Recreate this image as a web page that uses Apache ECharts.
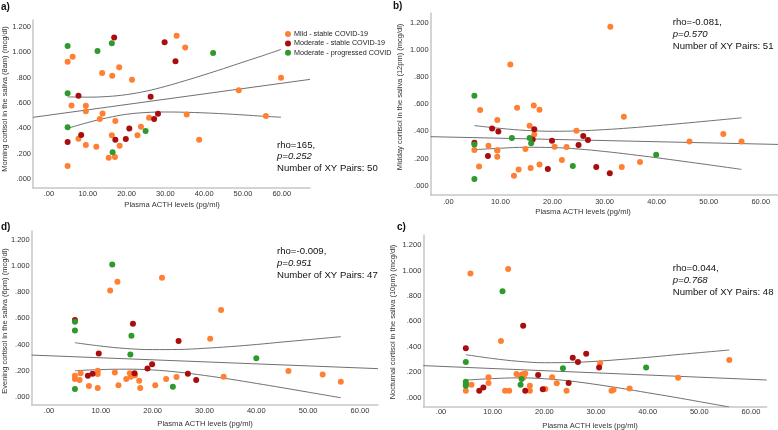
<!DOCTYPE html>
<html><head><meta charset="utf-8">
<script src="https://cdn.jsdelivr.net/npm/echarts@6/dist/echarts.min.js"></script>
<style>html,body{margin:0;padding:0;background:#fff}#c{width:778px;height:430px}</style>
</head><body><div id="c"></div>
<script>
// ---------- data ----------
const xTicks = [0, 10, 20, 30, 40, 50, 60];
const yTicks = [0, 0.2, 0.4, 0.6, 0.8, 1.0, 1.2];
const groups = ['Mild - stable COVID-19', 'Moderate - stable COVID-19', 'Moderate - progressed COVID'];
const groupColors = ['#ff7f33', '#a90d0d', '#2e9a2e'];

// panel a) morning cortisol (8am)
const aMild = [[32.9,1.129],[35.1,1.037],[4.8,0.924],[6.1,0.964],[13.7,0.835],[16.3,0.814],[18.1,0.880],[21.4,0.783],[59.8,0.798],[48.9,0.699],[5.8,0.580],[9.5,0.578],[9.5,0.533],[13.8,0.517],[13.1,0.473],[17.1,0.457],[25.8,0.483],[35.5,0.509],[55.9,0.496],[7.6,0.318],[16.2,0.344],[22.8,0.344],[23.7,0.412],[38.7,0.310],[9.5,0.268],[12.2,0.255],[18.2,0.263],[15.4,0.168],[17.0,0.173],[4.8,0.102]];
const aModStable = [[16.8,1.116],[29.8,1.077],[32.6,0.927],[7.6,0.657],[26.2,0.649],[28.1,0.515],[27.1,0.473],[20.7,0.397],[8.3,0.347],[4.8,0.291],[17.1,0.310],[19.8,0.315]];
const aModProg = [[4.8,1.048],[12.5,1.008],[16.2,1.069],[42.3,0.993],[4.8,0.675],[4.8,0.407],[24.9,0.378],[16.4,0.210]];
const aFit = [[-4.12,0.486],[67.27,0.785]];
const aUpper = [[4.8,0.647],[10,0.645],[15,0.650],[20,0.665],[25,0.692],[30,0.730],[35,0.774],[40,0.821],[45,0.870],[50,0.921],[55,0.971],[59.8,1.021]];
const aLower = [[4.8,0.399],[10,0.445],[15,0.482],[20,0.510],[25,0.524],[30,0.528],[35,0.526],[40,0.521],[45,0.514],[50,0.505],[55,0.495],[59.8,0.487]];
const aStats = ['rho=165,', 'p=0.252', 'Number of XY Pairs: 50'];

// panel b) midday cortisol (12pm)
const bMild = [[31.1,1.171],[11.9,0.893],[6.1,0.557],[13.2,0.574],[16.4,0.591],[17.5,0.560],[9.4,0.483],[33.7,0.508],[15.6,0.442],[24.6,0.405],[16.5,0.378],[5.0,0.263],[7.7,0.294],[9.4,0.260],[9.4,0.213],[14.8,0.270],[20.4,0.287],[22.7,0.285],[21.8,0.189],[5.9,0.142],[13.5,0.120],[12.6,0.074],[15.8,0.130],[17.5,0.157],[33.3,0.137],[36.8,0.174],[46.3,0.326],[52.8,0.380],[56.3,0.326],[9.4,0.262]];
const bModStable = [[5.0,0.316],[8.4,0.422],[9.6,0.400],[16.5,0.415],[16.2,0.341],[19.9,0.331],[25.9,0.366],[25.0,0.299],[26.8,0.336],[7.6,0.218],[19.1,0.123],[28.4,0.137],[31.0,0.091]];
const bModProg = [[5.0,0.663],[5.0,0.304],[5.0,0.049],[12.2,0.351],[15.6,0.351],[15.9,0.312],[23.9,0.145],[39.9,0.228]];
const bFit = [[-3.39,0.361],[63.3,0.304]];
const bUpper = [[5,0.443],[10,0.422],[15,0.407],[20,0.401],[25,0.404],[30,0.413],[35,0.426],[40,0.442],[45,0.459],[50,0.477],[56.3,0.500]];
const bLower = [[5,0.265],[10,0.276],[15,0.283],[20,0.281],[25,0.270],[30,0.252],[35,0.230],[40,0.206],[45,0.180],[50,0.154],[56.3,0.120]];
const bStats = ['rho=-0.081,', 'p=0.570', 'Number of XY Pairs: 51'];

// panel d) evening cortisol (6pm)
const dMild = [[11.8,0.814],[13.2,0.881],[21.8,0.911],[33.2,0.664],[31.1,0.444],[46.2,0.197],[52.8,0.171],[56.3,0.115],[33.7,0.153],[5.0,0.161],[5.0,0.135],[6.1,0.179],[5.9,0.128],[7.7,0.082],[9.4,0.199],[9.4,0.174],[9.4,0.066],[12.7,0.186],[13.4,0.087],[14.9,0.135],[15.6,0.179],[15.8,0.153],[16.6,0.165],[17.4,0.123],[17.6,0.066],[20.5,0.087],[22.6,0.135],[24.6,0.151]];
const dModStable = [[5.0,0.587],[16.2,0.559],[9.6,0.332],[19.0,0.217],[19.9,0.248],[7.5,0.161],[8.4,0.176],[16.5,0.179],[25.0,0.426],[26.8,0.176],[28.4,0.128]];
const dModProg = [[12.2,1.014],[5.0,0.574],[5.0,0.508],[5.0,0.059],[15.9,0.467],[15.7,0.324],[23.9,0.077],[40.0,0.294]];
const dFit = [[-3.34,0.319],[63.48,0.215]];
const dUpper = [[5,0.414],[10,0.388],[15,0.369],[20,0.361],[25,0.362],[30,0.371],[35,0.384],[40,0.400],[45,0.419],[50,0.437],[56.3,0.460]];
const dLower = [[5,0.199],[10,0.208],[15,0.211],[20,0.205],[25,0.188],[30,0.163],[35,0.134],[40,0.102],[45,0.069],[50,0.035],[56.3,-0.008]];
const dStats = ['rho=-0.009,', 'p=0.951', 'Number of XY Pairs: 47'];

// panel c) nocturnal cortisol (10pm)
const cMild = [[5.7,0.977],[13.0,1.011],[11.6,0.445],[55.8,0.296],[45.9,0.157],[30.8,0.270],[5.9,0.102],[4.8,0.055],[9.2,0.160],[9.2,0.115],[12.4,0.055],[13.2,0.055],[14.6,0.186],[15.3,0.173],[15.9,0.186],[16.3,0.191],[16.0,0.160],[15.6,0.178],[17.2,0.094],[17.2,0.055],[21.5,0.160],[22.4,0.113],[20.2,0.068],[24.3,0.055],[33.0,0.055],[33.4,0.063],[36.5,0.073]];
const cModStable = [[4.8,0.388],[15.9,0.566],[25.5,0.314],[26.5,0.280],[28.1,0.346],[30.6,0.238],[18.8,0.178],[24.7,0.115],[19.7,0.066],[16.3,0.055],[8.2,0.081],[7.4,0.055]];
const cModProg = [[11.9,0.836],[4.8,0.280],[23.6,0.231],[39.7,0.238],[4.8,0.126],[4.8,0.107],[4.8,0.094],[15.6,0.147],[15.4,0.102]];
const cFit = [[-3.43,0.252],[63.04,0.139]];
const cUpper = [[4.8,0.338],[10,0.308],[15,0.286],[20,0.275],[25,0.277],[30,0.286],[35,0.301],[40,0.317],[45,0.336],[50,0.354],[55.8,0.375]];
const cLower = [[4.8,0.138],[10,0.150],[15,0.156],[20,0.149],[25,0.131],[30,0.104],[35,0.073],[40,0.039],[45,0.005],[50,-0.031],[55.8,-0.073]];
const cStats = ['rho=0.044,', 'p=0.768', 'Number of XY Pairs: 48'];

const panelLabels = ['a)', 'b)', 'd)', 'c)'];
const yTitles = ['Morning cortisol in the saliva (8am) (mcg/dl)', 'Midday cortisol in the saliva (12pm) (mcg/dl)', 'Evening cortisol in the saliva (6pm) (mcg/dl)', 'Nocturnal cortisol in the saliva (10pm) (mcg/dl)'];
const xTitle = 'Plasma ACTH levels (pg/ml)';

// ---------- layout ----------
const FONT = '"Liberation Sans", Arial, sans-serif';
const panels = [
  {grid:{left:33, top:20, width:277, height:168}, x:[-4.12,67.27], y:[-0.0709,1.253], xm:2, ym:2,
   groups:[aMild,aModStable,aModProg], fit:aFit, up:aUpper, lo:aLower, stats:aStats,
   statsPos:[277,145], label:[1,7], yt:[5,99], xt:[172,205]},
  {grid:{left:430.7, top:13, width:347.3, height:182}, x:[-3.39,63.3], y:[-0.0685,1.272], xm:3, ym:2,
   groups:[bMild,bModStable,bModProg], fit:bFit, up:bUpper, lo:bLower, stats:bStats,
   statsPos:[672.7,22.7], label:[393,6], yt:[400,97], xt:[583,212]},
  {grid:{left:31.7, top:231, width:346.3, height:174}, x:[-3.34,63.48], y:[-0.0636,1.270], xm:1.5, ym:2,
   groups:[dMild,dModStable,dModProg], fit:dFit, up:dUpper, lo:dLower, stats:dStats,
   statsPos:[277,251.7], label:[1,227], yt:[5,321], xt:[205,424]},
  {grid:{left:423.3, top:235, width:343.4, height:171.7}, x:[-3.43,63.04], y:[-0.0708,1.279], xm:1.5, ym:2,
   groups:[cMild,cModStable,cModProg], fit:cFit, up:cUpper, lo:cLower, stats:cStats,
   statsPos:[672.7,268.3], label:[397,227], yt:[393,322], xt:[590,425.7]}
];

const fmtX = v => v === 0 ? '.00' : v.toFixed(2);
const fmtY = v => { const s = v.toFixed(3); return s.startsWith('0') ? s.slice(1) : s; };
const axisLine = {show:true, onZero:false, lineStyle:{color:'#c6c6c6', width:1.5}};

const grid = [], xAxis = [], yAxis = [], series = [], graphic = [];
panels.forEach((p, i) => {
  grid.push(Object.assign({containLabel:false}, p.grid));
  xAxis.push({type:'value', gridIndex:i, min:p.x[0], max:p.x[1], axisLine, axisTick:{show:false}, splitLine:{show:false},
    axisLabel:{customValues:xTicks, formatter:fmtX, fontSize:7.5, color:'#333', margin:p.xm, fontFamily:FONT}});
  yAxis.push({type:'value', gridIndex:i, min:p.y[0], max:p.y[1], axisLine, axisTick:{show:false}, splitLine:{show:false},
    axisLabel:{customValues:yTicks, formatter:fmtY, fontSize:7.5, color:'#333', margin:p.ym, fontFamily:FONT}});
  const lineBase = {type:'line', xAxisIndex:i, yAxisIndex:i, showSymbol:false, symbol:'none', silent:true, z:2,
    lineStyle:{color:'#606060', width:0.9}, clip:true};
  series.push(Object.assign({}, lineBase, {name:'fit'+i, data:p.fit}));
  series.push(Object.assign({}, lineBase, {name:'up'+i, data:p.up, smooth:0.4}));
  series.push(Object.assign({}, lineBase, {name:'lo'+i, data:p.lo, smooth:0.4}));
  p.groups.forEach((g, k) => {
    series.push({type:'scatter', name:groups[k], xAxisIndex:i, yAxisIndex:i, data:g, symbol:'circle', symbolSize:6,
      itemStyle:{color:groupColors[k], opacity:1}, z:3, silent:true});
  });
  graphic.push({type:'text', x:p.label[0], y:p.label[1], style:{text:panelLabels[i], font:'bold 10px '+FONT, fill:'#111', textVerticalAlign:'middle'}});
  graphic.push({type:'text', x:p.yt[0], y:p.yt[1], rotation:Math.PI/2, style:{text:yTitles[i], font:'7.5px '+FONT, fill:'#333', textAlign:'center', textVerticalAlign:'middle'}});
  graphic.push({type:'text', x:p.xt[0], y:p.xt[1], style:{text:xTitle, font:'7.6px '+FONT, fill:'#333', textAlign:'center', textVerticalAlign:'middle'}});
  p.stats.forEach((t, j) => {
    graphic.push({type:'text', x:p.statsPos[0], y:p.statsPos[1] + j*11.8,
      style:{text:t, font:(j===1?'italic ':'')+'9.6px '+FONT, fill:'#111', textVerticalAlign:'middle'}});
  });
});

const chart = echarts.init(document.getElementById('c'), null, {renderer:'canvas'});
chart.setOption({
  animation:false,
  backgroundColor:'#fff',
  grid, xAxis, yAxis, series, graphic,
  legend:{data:groups, orient:'vertical', left:285, top:30.5, itemWidth:6, itemHeight:6, itemGap:2.4, icon:'circle',
    textStyle:{fontSize:7.2, color:'#222', fontFamily:FONT, padding:[0,0,0,-2]}, padding:0, selectedMode:false}
});
</script></body></html>
